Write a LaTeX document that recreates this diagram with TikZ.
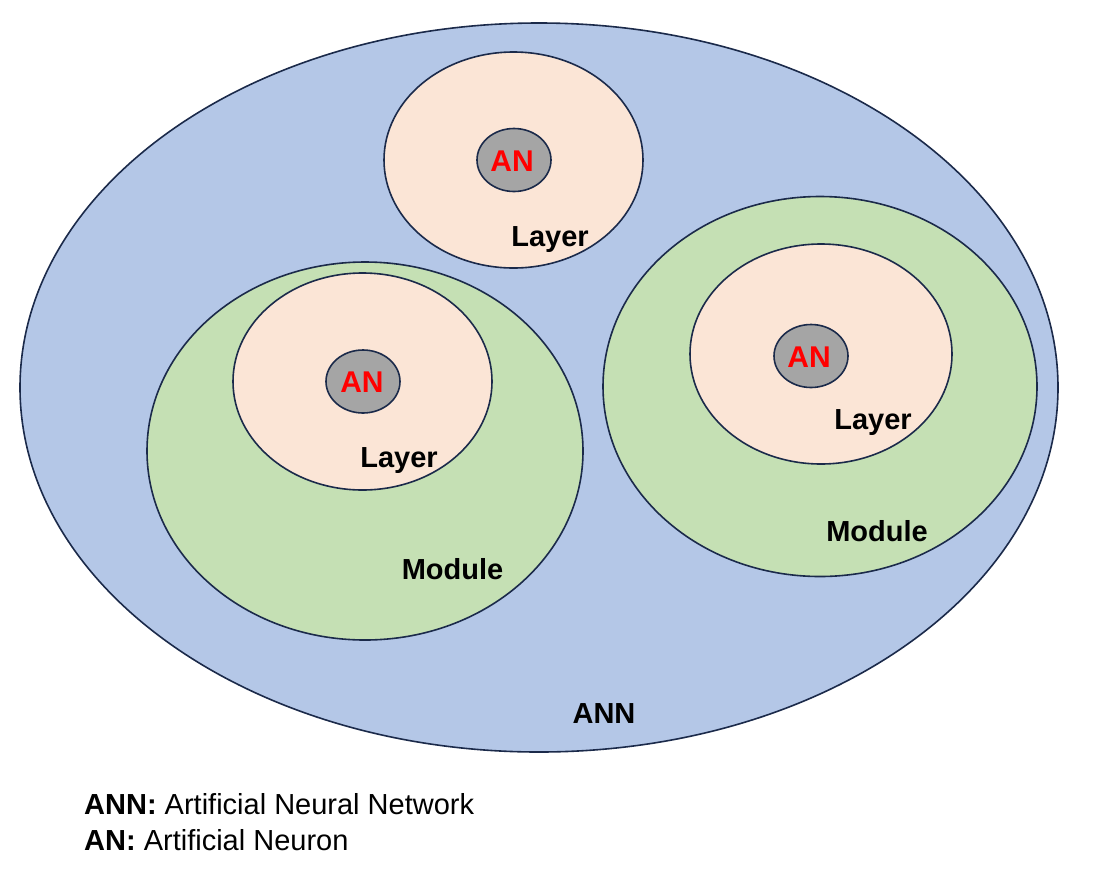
\documentclass[tikz,border=0pt]{standalone}
\usepackage{fontspec}
\setmainfont{Liberation Sans}
\definecolor{annblue}{HTML}{B4C7E7}
\definecolor{modgreen}{HTML}{C5E0B4}
\definecolor{laypeach}{HTML}{FBE5D6}
\definecolor{angray}{HTML}{A5A5A5}
\definecolor{edge}{HTML}{1B2A4A}
\definecolor{anred}{HTML}{FF0000}
\begin{document}
\begin{tikzpicture}[x=1pt,y=-1pt,
  blob/.style={draw=edge,line width=1.6pt},
  lbl/.style={font=\fontsize{29}{32}\selectfont\bfseries,anchor=base,inner sep=0pt},
  anlbl/.style={lbl,font=\fontsize{30}{33}\selectfont\bfseries,text=anred},
  leg/.style={font=\fontsize{29}{32}\selectfont,anchor=base west,inner sep=0pt}]
\useasboundingbox (0,0) rectangle (1100,868);
\fill[white] (0,0) rectangle (1100,868);
% ANN
\draw[blob,fill=annblue] (539,387.5) ellipse [x radius=519,y radius=364.5];
% top layer
\draw[blob,fill=laypeach] (513.5,160) ellipse [x radius=129.5,y radius=108];
\draw[blob,fill=angray] (514,160) ellipse [x radius=37,y radius=31.5];
% left module
\draw[blob,fill=modgreen] (365,451) ellipse [x radius=218,y radius=189];
\draw[blob,fill=laypeach] (362.5,381.5) ellipse [x radius=129.5,y radius=108.5];
\draw[blob,fill=angray] (363,381.5) ellipse [x radius=37,y radius=31.5];
% right module
\draw[blob,fill=modgreen] (820,386.5) ellipse [x radius=217,y radius=190];
\draw[blob,fill=laypeach] (821,354) ellipse [x radius=131,y radius=110];
\draw[blob,fill=angray] (811,356) ellipse [x radius=37,y radius=31.5];
% labels
\node[anlbl] (an1) at (512,171) {AN};
\node[lbl] (lay1) at (550,246) {Layer};
\node[anlbl] (an2) at (362,392) {AN};
\node[lbl] (lay2) at (399,467) {Layer};
\node[lbl] (mod2) at (452.5,579) {Module};
\node[anlbl] (an3) at (809,367) {AN};
\node[lbl] (lay3) at (873,429) {Layer};
\node[lbl] (mod3) at (877,541) {Module};
\node[lbl] (ann) at (604,723) {ANN};
% legend
\node[leg] (leg1) at (84,814) {\textbf{ANN:} Artificial Neural Network};
\node[leg] (leg2) at (84,850) {\textbf{AN:} Artificial Neuron};
\end{tikzpicture}
\end{document}
